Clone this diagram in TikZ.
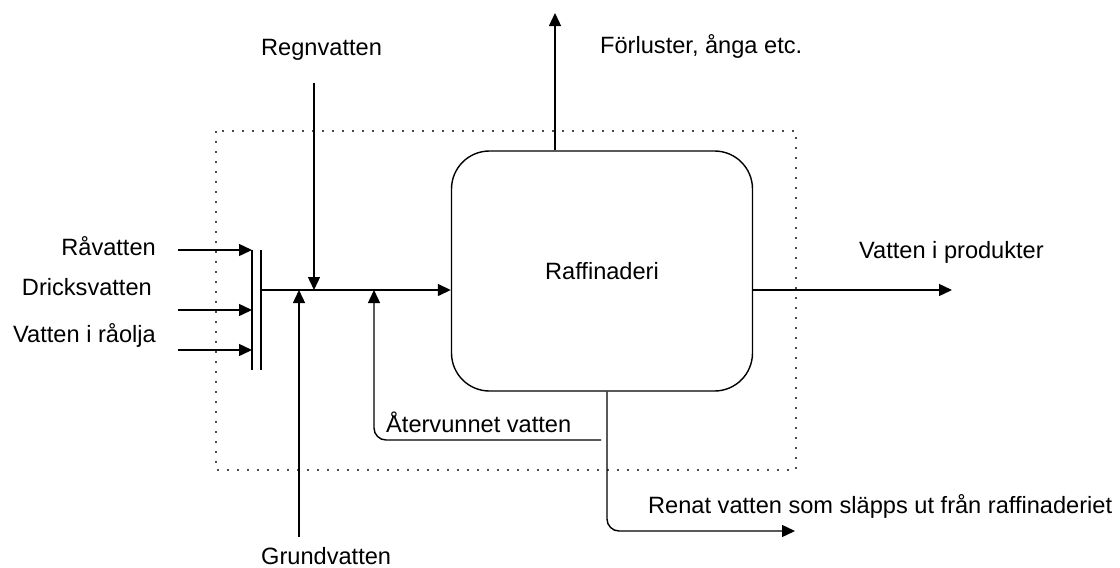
\documentclass[tikz,border=0pt]{standalone}
\usepackage{fontspec}
\setmainfont{Liberation Sans}
\usetikzlibrary{arrows.meta}

\begin{document}
\begin{tikzpicture}[x=1pt,y=-1pt,
    flow/.style={line width=1.4pt,-{Triangle[length=13pt,width=12pt]}},
    bar/.style={line width=1.4pt},
    lbl/.style={inner sep=0pt,font=\fontsize{23.6}{27}\selectfont},
    process/.style={draw,line width=1.4pt,rounded corners=38pt,minimum width=301pt,minimum height=240pt,inner sep=0pt,font=\fontsize{23.6}{27}\selectfont}]
  \useasboundingbox (0,0) rectangle (1120,568);

  % systemgräns
  \draw[line width=1.6pt,black!70,dash pattern=on 1.6pt off 8.4pt] (216,131) rectangle (796,470);

  \node[process] (raf) at (602,271) {Raffinaderi};

  % inflöden
  \node[lbl,anchor=base east] (rav) at (156,255) {Råvatten};
  \node[lbl,anchor=base east] (dri) at (152,295) {Dricksvatten};
  \node[lbl,anchor=base east] (rao) at (156,342) {Vatten i råolja};
  \coordinate (in1) at (178,250);
  \coordinate (in2) at (178,310);
  \coordinate (in3) at (178,350);
  \coordinate (bartop) at (252,250);
  \coordinate (mix) at (261,290);
  \draw[bar] (bartop) -- ++(0,120);
  \draw[bar] (mix |- bartop) -- ++(0,120);
  \foreach \n in {1,2,3}
    \draw[flow] (in\n) -- (in\n -| bartop);
  \draw[flow] (mix) -- (mix -| raf.west);

  \node[lbl,anchor=base west] (regn) at (261,55) {Regnvatten};
  \coordinate (regnin) at (314,83);
  \draw[flow] (regnin) -- (regnin |- mix);

  \node[lbl,anchor=base west] (grund) at (261,564) {Grundvatten};
  \coordinate (grundin) at (299,537);
  \draw[flow] (grundin) -- (grundin |- mix);

  % utflöden
  \node[lbl,anchor=base west] (forl) at (600,53) {Förluster, ånga etc.};
  \coordinate (loss) at (555,13);
  \draw[flow] (loss |- raf.north) -- (loss);

  \node[lbl,anchor=base west] (prod) at (859,258) {Vatten i produkter};
  \coordinate (prodout) at (952,290);
  \draw[flow] (prodout -| raf.east) -- (prodout);

  \coordinate (outx) at (607,391);
  \coordinate (split) at (601,440);
  \coordinate (recyc) at (374,290);
  \coordinate (drain) at (795,531);
  \draw[flow,rounded corners=12pt] (outx |- raf.south) |- (drain);
  \draw[flow,rounded corners=12pt] (split) -| (recyc);
  \node[lbl,anchor=base west] (ater) at (386,432) {Återvunnet vatten};
  \node[lbl,anchor=base west] (renat) at (648,513) {Renat vatten som släpps ut från raffinaderiet};
\end{tikzpicture}
\end{document}
